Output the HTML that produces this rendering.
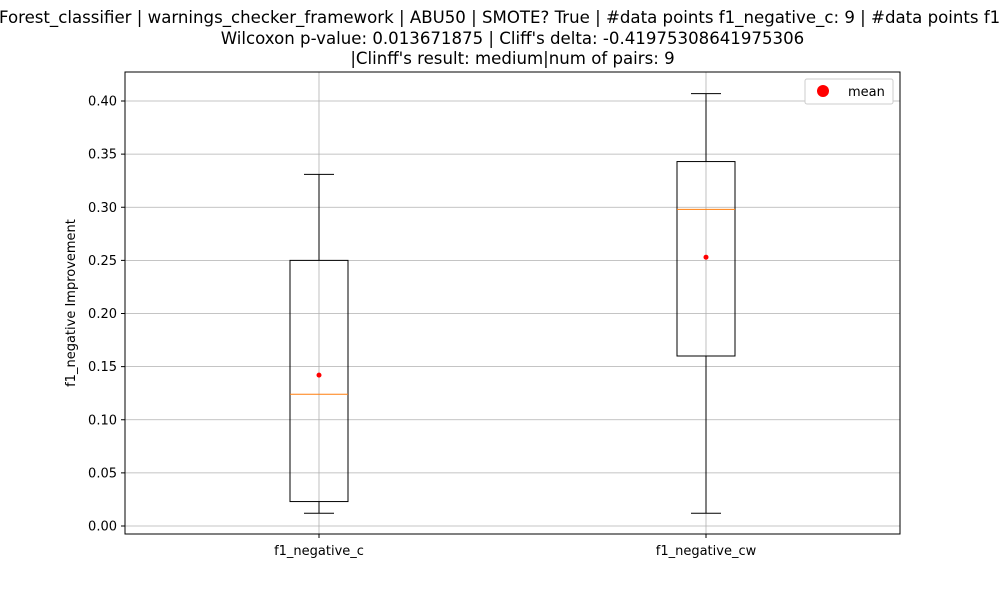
<!DOCTYPE html>
<html><head><meta charset="utf-8"><style>
body{margin:0;background:#fff;font-family:"Liberation Sans","DejaVu Sans",sans-serif}
</style></head><body>
<svg width="1000" height="600" xmlns="http://www.w3.org/2000/svg" id="svg" font-family="DejaVu Sans, Liberation Sans, sans-serif">
<rect width="1000" height="600" fill="#fff"/>
<g font-size="16.6" text-anchor="middle" fill="#000">
<text x="-1" y="23" text-anchor="start">Forest_classifier | warnings_checker_framework | ABU50 | SMOTE? True | #data points f1_negative_c: 9 | #data points f1_negative_cw: 9</text>
<text x="512.5" y="44">Wilcoxon p-value: 0.013671875 | Cliff's delta: -0.41975308641975306</text>
<text x="512.5" y="64">|Clinff's result: medium|num of pairs: 9</text>
</g>
<g id="grid"></g>
<g id="marks"></g>
<rect x="125" y="72" width="775" height="462" fill="none" stroke="#000" stroke-width="1"/>
<g id="ticks" font-size="13" fill="#000"></g>
<text transform="translate(75,303) rotate(-90)" text-anchor="middle" font-size="13">f1_negative Improvement</text>
<g>
<rect x="805" y="79" width="88" height="25" fill="#fff" stroke="#ccc" rx="2"/>
<circle cx="823" cy="91" r="6" fill="red"/>
<text x="848" y="96" font-size="13">mean</text>
</g>
</svg>
<script>
const categories=["f1_negative_c","f1_negative_cw"];
const whiskerLow=[0.012,0.012];
const q1=[0.023,0.160];
const median=[0.124,0.298];
const q3=[0.250,0.343];
const whiskerHigh=[0.331,0.407];
const means=[0.142,0.253];
const yTicks=[0,0.05,0.10,0.15,0.20,0.25,0.30,0.35,0.40];
const NS="http://www.w3.org/2000/svg";
const y=v=>526-v*1062.5;
const x=i=>319+i*387;
function mk(t,a,p){const e=document.createElementNS(NS,t);for(const k in a)e.setAttribute(k,a[k]);p.appendChild(e);return e;}
const grid=document.getElementById('grid'),marks=document.getElementById('marks'),ticks=document.getElementById('ticks');
yTicks.forEach(v=>{
 const g=mk('line',{x1:125,x2:900,y1:y(v),y2:y(v),stroke:'#b0b0b0','stroke-width':0.8},grid);
 
 
 const tk=mk('line',{x1:121,x2:125,y1:y(v),y2:y(v),stroke:'#000'},ticks);
 
 
 const t=mk('text',{x:117,y:y(v)+4.5,'text-anchor':'end'},ticks);t.textContent=v.toFixed(2);
 
 
});
categories.forEach((c,i)=>{
 const cx=x(i);
 const g=mk('line',{x1:cx,x2:cx,y1:72,y2:534,stroke:'#b0b0b0','stroke-width':0.8},grid);
 
 
 const tk=mk('line',{x1:cx,x2:cx,y1:534,y2:538,stroke:'#000'},ticks);
 
 
 const t=mk('text',{x:cx,y:555,'text-anchor':'middle'},ticks);t.textContent=c;
 
 
 const b=mk('g',{},marks);
 
 
 mk('line',{x1:cx,x2:cx,y1:y(q3[i]),y2:y(whiskerHigh[i]),stroke:'#000'},b);
 mk('line',{x1:cx,x2:cx,y1:y(q1[i]),y2:y(whiskerLow[i]),stroke:'#000'},b);
 mk('line',{x1:cx-15,x2:cx+15,y1:y(whiskerHigh[i]),y2:y(whiskerHigh[i]),stroke:'#000'},b);
 mk('line',{x1:cx-15,x2:cx+15,y1:y(whiskerLow[i]),y2:y(whiskerLow[i]),stroke:'#000'},b);
 mk('rect',{x:cx-29,y:y(q3[i]),width:58,height:y(q1[i])-y(q3[i]),fill:'none',stroke:'#000'},b);
 mk('line',{x1:cx-29,x2:cx+29,y1:y(median[i]),y2:y(median[i]),stroke:'#ff7f0e'},b);
 const m=mk('circle',{cx:cx,cy:y(means[i]),r:2.5,fill:'red'},b);
 
 
});
</script>
</body></html>
